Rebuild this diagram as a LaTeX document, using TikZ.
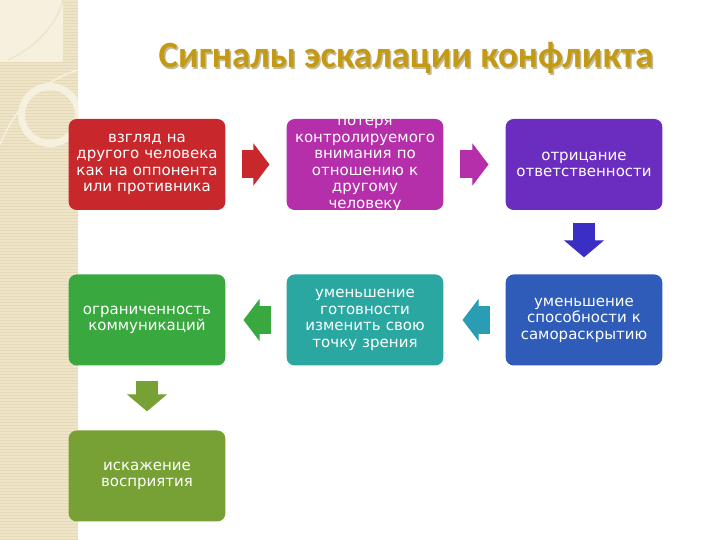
\documentclass[tikz,border=0pt]{standalone}
\usepackage{fontspec}
\setmainfont{DejaVu Sans}
\newfontfamily\titlefont{Carlito}
\usepackage{xcolor}
\usepackage{tikz}
\usetikzlibrary{arrows.meta,patterns}

\definecolor{boxred}{HTML}{C8282C}
\definecolor{boxmag}{HTML}{B52EAA}
\definecolor{boxpurple}{HTML}{6B2CC0}
\definecolor{boxblue}{HTML}{2E5CB8}
\definecolor{boxteal}{HTML}{2AA7A0}
\definecolor{boxgreen}{HTML}{39A83F}
\definecolor{boxolive}{HTML}{77A134}
\definecolor{arrblue}{HTML}{3A2EC4}
\definecolor{arrteal}{HTML}{2A9DB2}
\definecolor{titlegold}{HTML}{C39A14}
\definecolor{stripbg}{HTML}{EEE5C9}
\definecolor{stripline}{HTML}{E5D9B8}
\definecolor{stripdeco}{HTML}{F6F0DF}

\tikzset{
  sig/.style={rounded corners=8pt, minimum width=152pt, minimum height=91pt,
    text width=150pt, align=center, text=white, font=\fontsize{15}{16.5}\selectfont},
  hblock/.style={line width=28pt, -{Triangle[length=16pt,width=42pt,line width=1pt]}},
  vblock/.style={line width=22pt, -{Triangle[length=17pt,width=40pt,line width=1pt]}}
}

\begin{document}
\begin{tikzpicture}[x=1pt,y=1pt]
          \useasboundingbox (0,0) rectangle (720,540);
          \fill[white] (0,0) rectangle (720,540);

          \fill[stripbg] (0,0) rectangle (78,540);
          \fill[pattern=horizontal lines, pattern color=stripline] (0,0) rectangle (78,540);
          \begin{scope}
            \clip (0,0) rectangle (78,540);
            \fill[stripdeco] (0,478) rectangle (63,540);
            \draw[stripbg, line width=1.5pt] (8,480) .. controls (30,490) and (55,510) .. (63,540);
            \fill[stripdeco, even odd rule] (50,425) circle (32) (50,425) circle (25);
            \draw[stripdeco, line width=1.5pt] (0,395) .. controls (10,420) and (30,455) .. (78,470);
          \end{scope}

          \node[titlegold!40!gray, opacity=0.6, font=\titlefont\bfseries\fontsize{37}{37}\selectfont] at (407.5,480.5) {Сигналы эскалации конфликта};
          \node (title) [titlegold, font=\titlefont\bfseries\fontsize{37}{37}\selectfont] at (406,482) {Сигналы эскалации конфликта};

          \node (view) [sig, fill=boxred] at (147,375.5) {взгляд на\\другого человека\\как на оппонента\\или противника};
          \node (attention) [sig, fill=boxmag, inner ysep=-6pt] at (365,375.5) {потеря\\контролируемого\\внимания по\\отношению к\\другому\\человеку};
          \node (denial) [sig, fill=boxpurple] at (584,375.5) {отрицание\\ответственности};
          \node (openness) [sig, fill=boxblue] at (584,220) {уменьшение\\способности к\\самораскрытию};
          \node (readiness) [sig, fill=boxteal] at (365,220) {уменьшение\\готовности\\изменить свою\\точку зрения};
          \node (comm) [sig, fill=boxgreen] at (147,220) {ограниченность\\коммуникаций};
          \node (percep) [sig, fill=boxolive] at (147,64) {искажение\\восприятия};

          \draw[hblock, boxred, shorten <=16pt, shorten >=17pt] (view) -- (attention);
          \draw[hblock, boxmag, shorten <=16pt, shorten >=17pt] (attention) -- (denial);
          \draw[vblock, arrblue, shorten <=13pt, shorten >=17pt] (denial) -- (openness);
          \draw[hblock, arrteal, shorten <=15pt, shorten >=19pt] (openness) -- (readiness);
          \draw[hblock, boxgreen, shorten <=15pt, shorten >=18pt] (readiness) -- (comm);
          \draw[vblock, boxolive, shorten <=15pt, shorten >=19pt] (comm) -- (percep);
        \end{tikzpicture}
\end{document}
